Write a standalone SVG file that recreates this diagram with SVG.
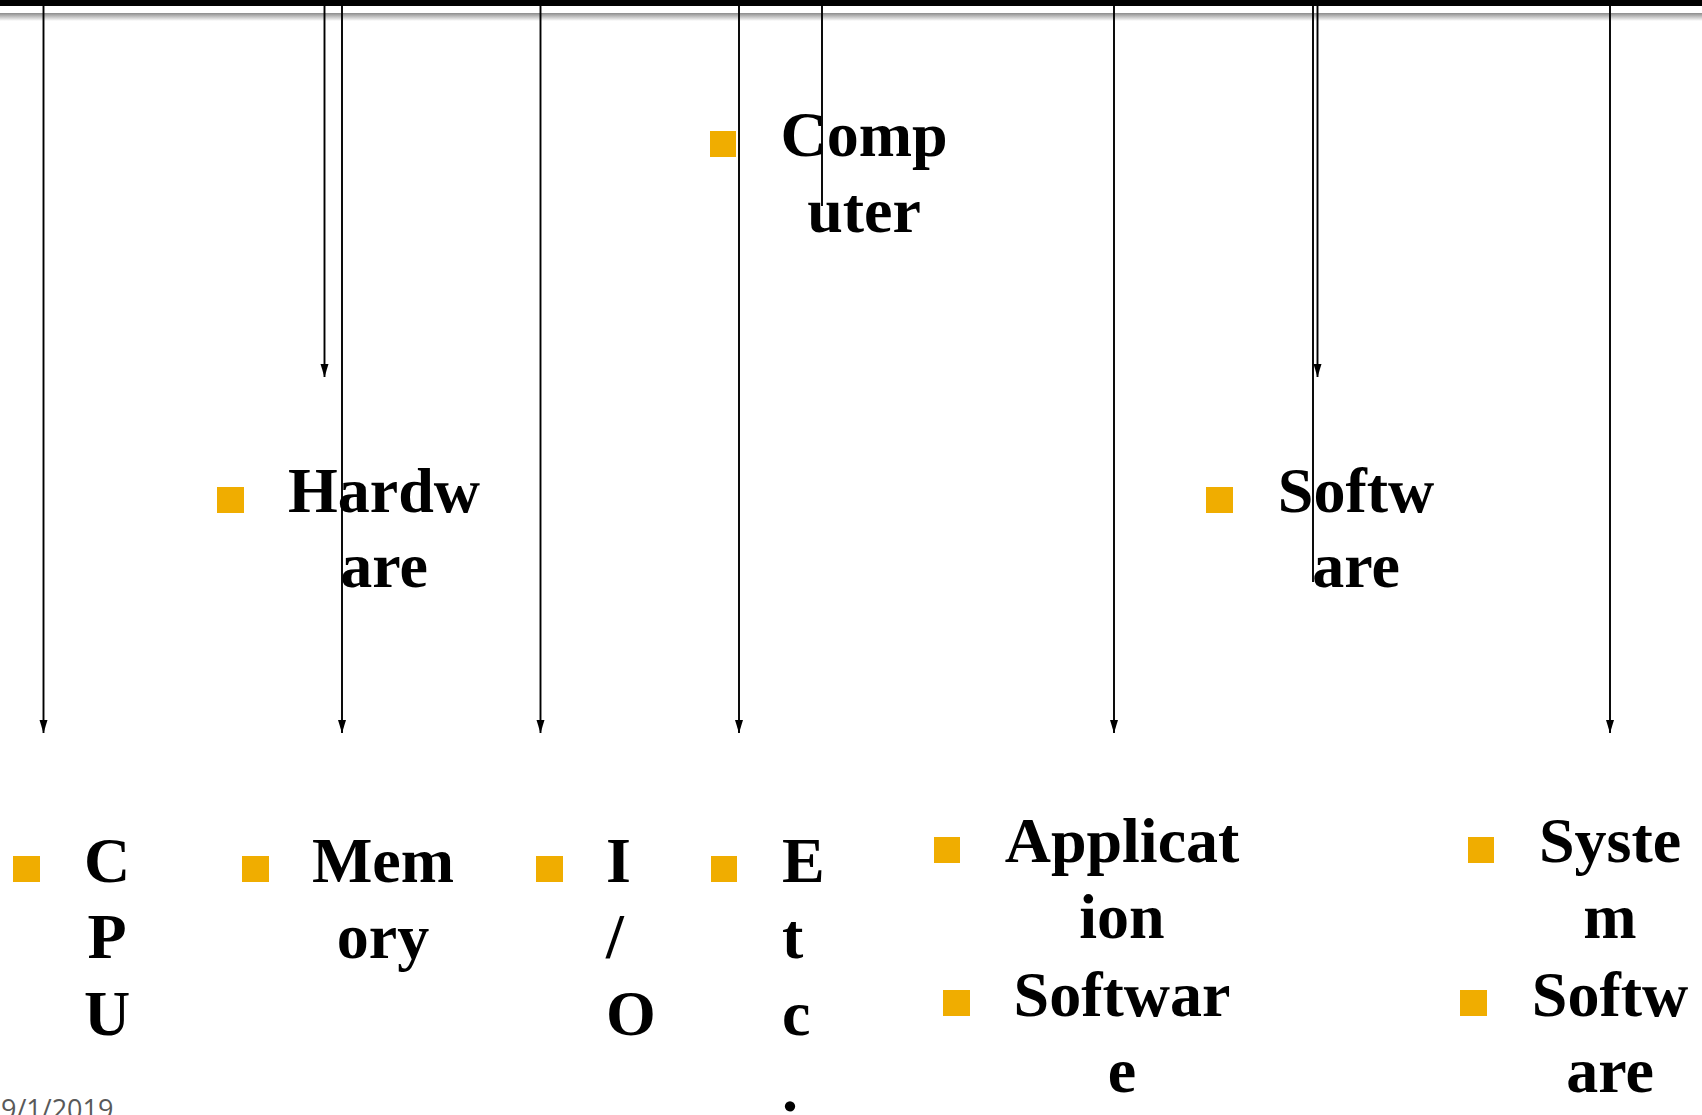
<svg xmlns="http://www.w3.org/2000/svg" width="1702" height="1115" viewBox="0 0 1702 1115">
<defs>
<linearGradient id="rule" x1="0" y1="0" x2="0" y2="1">
<stop offset="0" stop-color="#8c8c8c"/>
<stop offset="1" stop-color="#ffffff"/>
</linearGradient>
<marker id="ah" markerUnits="userSpaceOnUse" markerWidth="14" markerHeight="10" refX="13" refY="4" orient="auto">
<path d="M0,0 L13,4 L0,8 z" fill="#000"/>
</marker>
<style>
.lbl{font-family:"Liberation Serif","Times New Roman",serif;font-weight:bold;font-size:64px;fill:#000}
.mid{text-anchor:middle}
.bul{fill:#F0AD00}
.con{stroke:#000;stroke-width:1.9;fill:none}
.arr{marker-end:url(#ah)}
.date{font-family:"Open Sans","DejaVu Sans",sans-serif;font-size:27px;fill:#595959}
</style>
</defs>
<rect width="1702" height="1115" fill="#fff"/>
<rect x="0" y="0" width="1702" height="6" fill="#000"/>
<rect x="0" y="13" width="1702" height="8" fill="url(#rule)"/>

<g id="computer">
<rect class="bul" x="710" y="131" width="26" height="26"/>
<text class="lbl mid" x="864" y="156">Comp</text>
<text class="lbl mid" x="864" y="232">uter</text>
</g>
<g id="hardware">
<rect class="bul" x="217" y="487" width="27" height="26"/>
<text class="lbl mid" x="384" y="512">Hardw</text>
<text class="lbl mid" x="384" y="587">are</text>
</g>
<g id="software">
<rect class="bul" x="1206" y="487" width="27" height="26"/>
<text class="lbl mid" x="1356" y="512">Softw</text>
<text class="lbl mid" x="1356" y="587">are</text>
</g>
<g id="cpu">
<rect class="bul" x="13" y="856" width="27" height="26"/>
<text class="lbl mid" x="107" y="882">C</text>
<text class="lbl mid" x="107" y="958">P</text>
<text class="lbl mid" x="107" y="1035">U</text>
</g>
<g id="memory">
<rect class="bul" x="242" y="856" width="27" height="26"/>
<text class="lbl mid" x="383" y="882">Mem</text>
<text class="lbl mid" x="383" y="958">ory</text>
</g>
<g id="io">
<rect class="bul" x="536" y="856" width="27" height="26"/>
<text class="lbl" x="606" y="882">I</text>
<text class="lbl" x="606" y="958">/</text>
<text class="lbl" x="606" y="1035">O</text>
</g>
<g id="etc">
<rect class="bul" x="711" y="856" width="26" height="26"/>
<text class="lbl" x="782" y="882">E</text>
<text class="lbl" x="782" y="958">t</text>
<text class="lbl" x="782" y="1035">c</text>
<text class="lbl" x="782" y="1111">.</text>
</g>
<g id="application-software">
<rect class="bul" x="934" y="837" width="26" height="26"/>
<text class="lbl mid" x="1122" y="862">Applicat</text>
<text class="lbl mid" x="1122" y="938">ion</text>
<rect class="bul" x="943" y="990" width="27" height="26"/>
<text class="lbl mid" x="1122" y="1016">Softwar</text>
<text class="lbl mid" x="1122" y="1092">e</text>
</g>
<g id="system-software">
<rect class="bul" x="1468" y="837" width="26" height="26"/>
<text class="lbl mid" x="1610" y="862">Syste</text>
<text class="lbl mid" x="1610" y="938">m</text>
<rect class="bul" x="1460" y="990" width="27" height="26"/>
<text class="lbl mid" x="1610" y="1016">Softw</text>
<text class="lbl mid" x="1610" y="1092">are</text>
</g>

<g id="connectors">
<line class="con arr" x1="43.5" y1="0" x2="43.5" y2="733"/>
<line class="con arr" x1="324.5" y1="0" x2="324.5" y2="377"/>
<line class="con arr" x1="342" y1="0" x2="342" y2="733"/>
<line class="con arr" x1="540.5" y1="0" x2="540.5" y2="733"/>
<line class="con arr" x1="739" y1="0" x2="739" y2="733"/>
<line class="con" x1="822" y1="0" x2="822" y2="206"/>
<line class="con arr" x1="1114" y1="0" x2="1114" y2="733"/>
<line class="con" x1="1313" y1="0" x2="1313" y2="582"/>
<line class="con arr" x1="1317.5" y1="0" x2="1317.5" y2="377"/>
<line class="con arr" x1="1610" y1="0" x2="1610" y2="733"/>
</g>

<text class="date" x="1" y="1119">9/1/2019</text>
</svg>
